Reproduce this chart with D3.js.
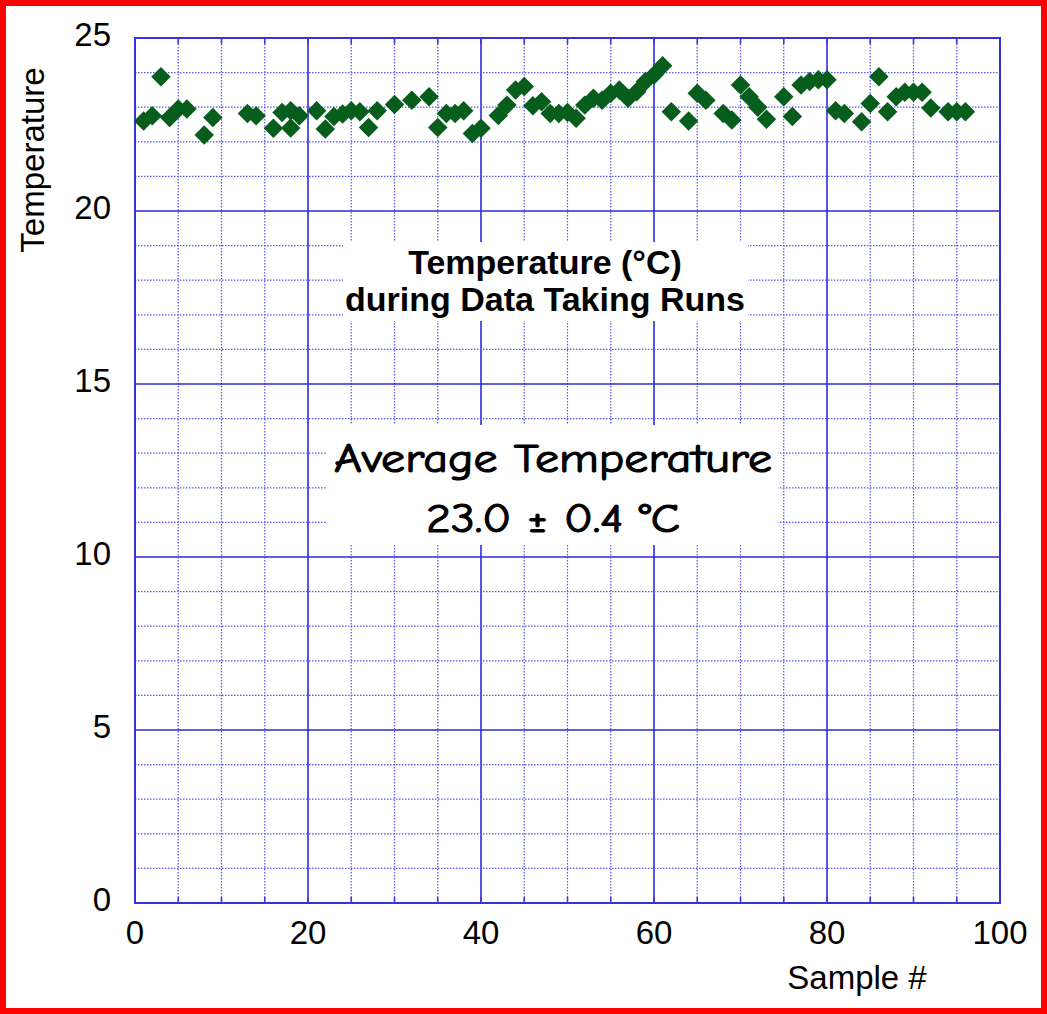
<!DOCTYPE html>
<html lang="en">
  <head>
    <meta charset="UTF-8" />
    <title>Temperature during Data Taking Runs</title>
    <script src="https://cdnjs.cloudflare.com/ajax/libs/d3/7.8.5/d3.min.js"></script>
    <style>
      body { margin: 0; background: #fff; }
      text { font-family: "Liberation Sans", Arial, sans-serif; fill: #000; }
      .comic { font-family: "Comic Sans MS", "Comic Neue", "DejaVu Sans", sans-serif; }
    </style>
  </head>
  <body>
    <div id="chart"></div>
    <script>
      // sample number and temperature (deg C)
      var sampleNum = [1, 2, 3, 4, 5, 6, 8, 9, 13, 14, 16, 17, 18, 18, 19, 21, 22, 23, 24, 25,
        26, 27, 28, 30, 32, 34, 35, 36, 37, 38, 39, 40, 42, 43, 44, 45, 46, 47, 48, 49,
        50, 51, 52, 53, 54, 55, 56, 57, 58, 59, 60, 61, 62, 64, 65, 66, 68, 69, 70, 71,
        72, 73, 75, 76, 77, 78, 79, 80, 81, 82, 84, 85, 86, 87, 88, 89, 90, 91, 92, 94,
        95, 96];
      var temperature = [22.6, 22.75, 23.88, 22.7, 22.95, 22.95, 22.2, 22.7, 22.82, 22.75, 22.39, 22.85, 22.9, 22.4, 22.75, 22.9, 22.37, 22.73, 22.8, 22.9,
        22.87, 22.41, 22.9, 23.08, 23.2, 23.3, 22.41, 22.82, 22.82, 22.9, 22.24, 22.39, 22.76, 23.06, 23.5, 23.6, 23.04, 23.16, 22.82, 22.82,
        22.85, 22.68, 23.06, 23.26, 23.2, 23.4, 23.5, 23.26, 23.45, 23.74, 23.93, 24.2, 22.87, 22.6, 23.4, 23.2, 22.82, 22.63, 23.64, 23.3,
        23.0, 22.65, 23.3, 22.73, 23.64, 23.74, 23.79, 23.79, 22.9, 22.82, 22.58, 23.11, 23.88, 22.87, 23.3, 23.43, 23.43, 23.43, 22.98, 22.87,
        22.87, 22.87];

      var xTicks = [0, 20, 40, 60, 80, 100];
      var yTicks = [0, 5, 10, 15, 20, 25];
      var titleLines = ["Temperature (°C)", "during Data Taking Runs"];
      var noteLines = ["Average Temperature", "23.0 ± 0.4 °C"];

      var width = 1047, height = 1014;
      var plotL = 135, plotR = 1000, plotT = 38, plotB = 903;

      var svg = d3.select("#chart").append("svg")
        .attr("width", width)
        .attr("height", height);

      var x = d3.scaleLinear().domain([0, 100]).range([plotL, plotR]);
      var y = d3.scaleLinear().domain([0, 25]).range([plotB, plotT]);

      //////////////////////////// grid ////////////////////////////
      var grid = svg.append("g");

      // minor verticals every 5, dotted
      grid.selectAll(".vmin")
        .data(d3.range(5, 100, 5).filter(function(d) { return d % 20 !== 0; }))
        .enter().append("line")
        .attr("x1", function(d) { return x(d); })
        .attr("x2", function(d) { return x(d); })
        .attr("y1", plotT).attr("y2", plotB)
        .style("stroke", "#5a5aee")
        .style("stroke-width", 1.2)
        .style("stroke-dasharray", "1.5,1.5");

      // minor horizontals every 1, dotted
      grid.selectAll(".hmin")
        .data(d3.range(1, 25).filter(function(d) { return d % 5 !== 0; }))
        .enter().append("line")
        .attr("y1", function(d) { return y(d); })
        .attr("y2", function(d) { return y(d); })
        .attr("x1", plotL).attr("x2", plotR)
        .style("stroke", "#5a5aee")
        .style("stroke-width", 1.2)
        .style("stroke-dasharray", "1.5,1.5");

      // major verticals every 20
      grid.selectAll(".vmaj")
        .data([20, 40, 60, 80])
        .enter().append("line")
        .attr("x1", function(d) { return x(d); })
        .attr("x2", function(d) { return x(d); })
        .attr("y1", plotT).attr("y2", plotB)
        .style("stroke", "#5555e6")
        .style("stroke-width", 2);

      // major horizontals every 5
      grid.selectAll(".hmaj")
        .data([5, 10, 15, 20])
        .enter().append("line")
        .attr("y1", function(d) { return y(d); })
        .attr("y2", function(d) { return y(d); })
        .attr("x1", plotL).attr("x2", plotR)
        .style("stroke", "#2a2ad8")
        .style("stroke-width", 1.6);

      // small solid ticks on top and bottom borders
      var minorX = d3.range(5, 100, 5);
      grid.selectAll(".tb")
        .data(minorX)
        .enter().append("line")
        .attr("x1", function(d) { return x(d); })
        .attr("x2", function(d) { return x(d); })
        .attr("y1", plotB).attr("y2", plotB - 6)
        .style("stroke", "#3a3ae0").style("stroke-width", 1.6);
      grid.selectAll(".tt")
        .data(minorX)
        .enter().append("line")
        .attr("x1", function(d) { return x(d); })
        .attr("x2", function(d) { return x(d); })
        .attr("y1", plotT).attr("y2", plotT + 6)
        .style("stroke", "#3a3ae0").style("stroke-width", 1.6);

      // plot border
      svg.append("rect")
        .attr("x", plotL).attr("y", plotT)
        .attr("width", plotR - plotL).attr("height", plotB - plotT)
        .style("fill", "none")
        .style("stroke", "#3333dd")
        .style("stroke-width", 2);

      //////////////////////////// axes labels ////////////////////////////
      svg.selectAll(".ylab")
        .data(yTicks)
        .enter().append("text")
        .attr("x", 111)
        .attr("y", function(d) { return y(d) + 8; })
        .attr("text-anchor", "end")
        .style("font-size", "33px")
        .text(function(d) { return d; });

      svg.selectAll(".xlab")
        .data(xTicks)
        .enter().append("text")
        .attr("x", function(d) { return x(d); })
        .attr("y", 944)
        .attr("text-anchor", "middle")
        .style("font-size", "33px")
        .text(function(d) { return d; });

      svg.append("text")
        .attr("x", 857).attr("y", 989)
        .attr("text-anchor", "middle")
        .style("font-size", "33px")
        .text("Sample #");

      svg.append("text")
        .attr("transform", "translate(44,160) rotate(-90)")
        .attr("text-anchor", "middle")
        .style("font-size", "33px")
        .text("Temperature");

      //////////////////////////// text boxes ////////////////////////////
      svg.append("rect")
        .attr("x", 343).attr("y", 242)
        .attr("width", 405).attr("height", 79)
        .style("fill", "#fff");
      svg.selectAll(".title")
        .data(titleLines)
        .enter().append("text")
        .attr("x", 545)
        .attr("y", function(d, i) { return 274 + i * 37; })
        .attr("text-anchor", "middle")
        .style("font-size", "34px")
        .style("font-weight", "bold")
        .text(function(d) { return d; });

      svg.append("rect")
        .attr("x", 326).attr("y", 425)
        .attr("width", 452).attr("height", 120)
        .style("fill", "#fff");
      svg.selectAll(".note")
        .data(noteLines)
        .enter().append("text")
        .attr("class", "comic")
        .attr("x", 553)
        .attr("y", function(d, i) { return 472 + i * 60; })
        .attr("text-anchor", "middle")
        .attr("textLength", function(d, i) { return i === 0 ? 438 : 254; })
        .attr("lengthAdjust", "spacingAndGlyphs")
        .style("font-size", "41px")
        .style("stroke", "#000")
        .style("stroke-width", 1.1)
        .text(function(d) { return d; });

      //////////////////////////// points ////////////////////////////
      var diamond = d3.symbol().type(d3.symbolSquare).size(190);
      svg.append("g")
        .selectAll("path")
        .data(d3.range(sampleNum.length))
        .enter().append("path")
        .attr("d", diamond)
        .attr("transform", function(i) {
          return "translate(" + x(sampleNum[i]) + "," + y(temperature[i]) + ") rotate(45)";
        })
        .style("fill", "#075e1c");

      // red frame around the picture
      svg.append("rect")
        .attr("x", 3).attr("y", 3)
        .attr("width", 1041).attr("height", 1008)
        .style("fill", "none")
        .style("stroke", "#ff0000")
        .style("stroke-width", 6);
    </script>
  </body>
</html>
